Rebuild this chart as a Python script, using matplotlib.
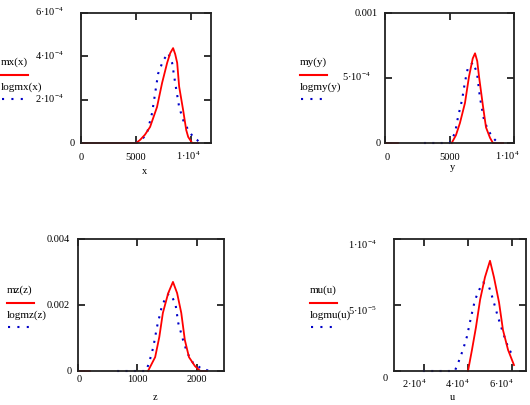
import numpy as np
import matplotlib
matplotlib.use("Agg")
import matplotlib.pyplot as plt
from matplotlib.transforms import offset_copy
from matplotlib.lines import Line2D

plt.rcParams['font.family'] = ['Liberation Serif', 'DejaVu Serif']
plt.rcParams['mathtext.fontset'] = 'custom'
plt.rcParams['mathtext.rm'] = 'Liberation Serif'
plt.rcParams['mathtext.it'] = 'Liberation Serif:italic'
plt.rcParams['mathtext.bf'] = 'Liberation Serif:bold'

nan = np.nan

# ---------------- data ----------------
# panel x
x_red_x = [0, 5000, 5360, 5800, 6270, 6900, 7360, 7820, 8100, 8360, 8550, 8730, 8910, 9270, 9550, 9730, 10090, 10640]
x_red_y = [0, 0, 0.14e-4, 0.38e-4, 0.74e-4, 1.66e-4, 2.77e-4, 3.7e-4, 4.15e-4, 4.38e-4, 4.1e-4, 3.7e-4, 2.6e-4,
           1.52e-4, 0.6e-4, 0.28e-4, 0, 0]
x_blue_x = [5000, 5640, 6000, 6450, 6730, 7000, 7450, 7910, 8270, 8550, 8910, 9270, 9730, 10180, 10540, 10800]
x_blue_y = [0, 0.23e-4, 0.46e-4, 1.38e-4, 2.3e-4, 3.2e-4, 3.8e-4, 4.15e-4, 3.7e-4, 2.77e-4, 1.66e-4, 1.06e-4,
            0.6e-4, 0.28e-4, 0.14e-4, 0]

# panel y
y_red_x = [0, 1000, nan, 5170, 5500, 5810, 6200, 6510, 6800, 6980, 7150, 7290, 7600, 7830, 8140, 8370, 9150]
y_red_y = [0, 0, nan, 0, 0.6e-4, 1.54e-4, 3.08e-4, 5.1e-4, 6.5e-4, 6.9e-4, 6.3e-4, 5.1e-4, 2.8e-4, 1.2e-4,
           0.4e-4, 0, 0]
y_blue_x = [3020, 5000, 5430, 5660, 5970, 6200, 6430, 6820, 7130, 7360, 7670, 7980, 8370, 8760, 9000]
y_blue_y = [0, 0, 0.77e-4, 2.0e-4, 3.3e-4, 4.7e-4, 5.8e-4, 6.2e-4, 5.4e-4, 3.5e-4, 1.8e-4, 1.0e-4, 0.4e-4, 0, 0]

# panel z
z_red_x = [0, 200, nan, 1180, 1300, 1370, 1430, 1520, 1600, 1670, 1740, 1800, 1870, 1970, 2060, 2170]
z_red_y = [0, 0, nan, 0, 0.42e-3, 1.03e-3, 1.76e-3, 2.36e-3, 2.7e-3, 2.36e-3, 1.76e-3, 0.94e-3, 0.42e-3,
           0.15e-3, 0, 0]
z_blue_x = [660, 1150, 1210, 1270, 1330, 1410, 1470, 1530, 1580, 1640, 1690, 1770, 1840, 1940, 2060, 2210]
z_blue_y = [0, 0, 0.33e-3, 0.73e-3, 1.33e-3, 1.94e-3, 2.2e-3, 2.35e-3, 2.25e-3, 2.06e-3, 1.45e-3, 0.94e-3,
            0.55e-3, 0.24e-3, 0.1e-3, 0]

# panel u
u_red_x = [4.0e4, 4.18e4, 4.36e4, 4.55e4, 4.77e4, 5.0e4, 5.18e4, 5.41e4, 5.59e4, 5.82e4, 6.09e4]
u_red_y = [0, 1.6e-5, 3.3e-5, 5.4e-5, 7.1e-5, 8.35e-5, 7.1e-5, 5.2e-5, 3.1e-5, 1.6e-5, 0.45e-5]
u_blue_x = [1.95e4, 3.4e4, 3.55e4, 3.77e4, 3.95e4, 4.14e4, 4.32e4, 4.55e4, 4.68e4, 4.95e4, 5.14e4, 5.36e4,
            5.59e4, 5.82e4, 6.05e4]
u_blue_y = [0, 0, 0.6e-5, 1.6e-5, 2.6e-5, 4.1e-5, 5.4e-5, 6.3e-5, 6.7e-5, 6.4e-5, 5.4e-5, 4.1e-5, 2.9e-5,
            1.8e-5, 1.1e-5]

# ticks and labels
x_xticks = [0, 5000, 10000]
x_xticklabels = ['0', '5000', '1·10$^{4}$']
x_yticks = [0, 2e-4, 4e-4, 6e-4]
x_yticklabels = ['0', '2·10$^{-4}$', '4·10$^{-4}$', '6·10$^{-4}$']

y_xticks = [0, 5000, 10000]
y_xticklabels = ['0', '5000', '1·10$^{4}$']
y_yticks = [0, 5e-4, 1e-3]
y_yticklabels = ['0', '5·10$^{-4}$', '0.001']

z_xticks = [0, 1000, 2000]
z_xticklabels = ['0', '1000', '2000']
z_yticks = [0, 0.002, 0.004]
z_yticklabels = ['0', '0.002', '0.004']

u_xticks = [2e4, 4e4, 6e4]
u_xticklabels = ['2·10$^{4}$', '4·10$^{4}$', '6·10$^{4}$']
u_yticks = [0, 5e-5, 1e-4]
u_yticklabels = ['0', '5·10$^{-5}$', '1·10$^{-4}$']

names = ['x', 'y', 'z', 'u']
red_names = ['mx(x)', 'my(y)', 'mz(z)', 'mu(u)']
blue_names = ['logmx(x)', 'logmy(y)', 'logmz(z)', 'logmu(u)']

# ---------------- layout ----------------
W, H = 530, 405
fig = plt.figure(figsize=(W / 100, H / 100), dpi=100)
RED = '#ff0000'
BLUE = '#0000c8'
FS = 7.5

panels = [
    dict(box=(81, 13, 211, 143), xlim=(0, 11800), ylim=(0, 6e-4),
         red=(x_red_x, x_red_y), blue=(x_blue_x, x_blue_y),
         xt=x_xticks, xtl=x_xticklabels, xdx=[0, 0, -3],
         yt=x_yticks, ytl=x_yticklabels, yoff=[-11, -46, -46, -46], ydy=0,
         xlab_y=160, name_pos=(145, 171), leg=(1, 62)),
    dict(box=(385, 13, 514, 143), xlim=(0, 10000), ylim=(0, 1e-3),
         red=(y_red_x, y_red_y), blue=(y_blue_x, y_blue_y),
         xt=y_xticks, xtl=y_xticklabels, xdx=[2, 0, -7],
         yt=y_yticks, ytl=y_yticklabels, yoff=[-9, -43, -30], ydy=0,
         xlab_y=160, name_pos=(452, 168), leg=(300, 62)),
    dict(box=(78, 239, 224, 371), xlim=(0, 2460), ylim=(0, 4e-3),
         red=(z_red_x, z_red_y), blue=(z_blue_x, z_blue_y),
         xt=z_xticks, xtl=z_xticklabels, xdx=[1, 0, 0],
         yt=z_yticks, ytl=z_yticklabels, yoff=[-11, -31, -31], ydy=0,
         xlab_y=382, name_pos=(155, 397), leg=(7, 290)),
    dict(box=(394, 239, 526, 371), xlim=(6360, 66360), ylim=(0, 1e-4),
         red=(u_red_x, u_red_y), blue=(u_blue_x, u_blue_y),
         xt=u_xticks, xtl=u_xticklabels, xdx=[-10, -11, -11],
         yt=u_yticks, ytl=u_yticklabels, yoff=[-11, -46, -46], ydy=7,
         xlab_y=388, name_pos=(452, 398), leg=(310, 290)),
]

def fx(px):
    return px / W

def fy(py):
    return 1 - py / H

for i, p in enumerate(panels):
    l, t, r, b = p['box']
    ax = fig.add_axes([fx(l), fy(b), (r - l) / W, (b - t) / H])
    ax.set_xlim(*p['xlim'])
    ax.set_ylim(*p['ylim'])
    ax.plot(p['blue'][0], p['blue'][1], color=BLUE, lw=1.5, ls=(0, (1, 3)), clip_on=False)
    ax.plot(p['red'][0], p['red'][1], color=RED, lw=1.3, clip_on=False)
    ax.set_xticks(p['xt'])
    ax.set_yticks(p['yt'])
    ax.tick_params(direction='in', top=True, right=True, length=5, width=1.3,
                   labelbottom=False, labelleft=False, color='#222222')
    for s in ax.spines.values():
        s.set_linewidth(1.3)
        s.set_color('#222222')
    ax.set_facecolor('none')

    # x tick labels
    xtr = ax.get_xaxis_transform()
    for v, s, dx in zip(p['xt'], p['xtl'], p['xdx']):
        tr = offset_copy(xtr, fig=fig, x=dx, y=-(p['xlab_y'] - b), units='dots')
        ax.text(v, 0, s, transform=tr, ha='center', va='baseline', fontsize=FS, clip_on=False)
    # y tick labels
    ytr = ax.get_yaxis_transform()
    for v, s, off in zip(p['yt'], p['ytl'], p['yoff']):
        tr = offset_copy(ytr, fig=fig, x=off, y=-(3.3 + p['ydy']), units='dots')
        ax.text(0, v, s, transform=tr, ha='left', va='baseline', fontsize=FS, clip_on=False)

    # axis variable name
    nx_, ny_ = p['name_pos']
    fig.text(fx(nx_), fy(ny_), names[i], ha='center', va='center', fontsize=FS)

    # legend (Mathcad style: name above the sample line)
    lx, ly = p['leg']
    fig.text(fx(lx), fy(ly), red_names[i], ha='left', va='center', fontsize=FS + 0.5)
    fig.add_artist(Line2D([fx(lx), fx(lx + 27)], [fy(ly + 13), fy(ly + 13)],
                          transform=fig.transFigure, color=RED, lw=1.5))
    fig.text(fx(lx), fy(ly + 25), blue_names[i], ha='left', va='center', fontsize=FS + 0.5)
    fig.add_artist(Line2D([fx(lx + 1), fx(lx + 23)], [fy(ly + 37), fy(ly + 37)],
                          transform=fig.transFigure, color=BLUE, lw=1.5, ls=(0, (1, 3.5))))

fig.savefig('out.png', dpi=100)
